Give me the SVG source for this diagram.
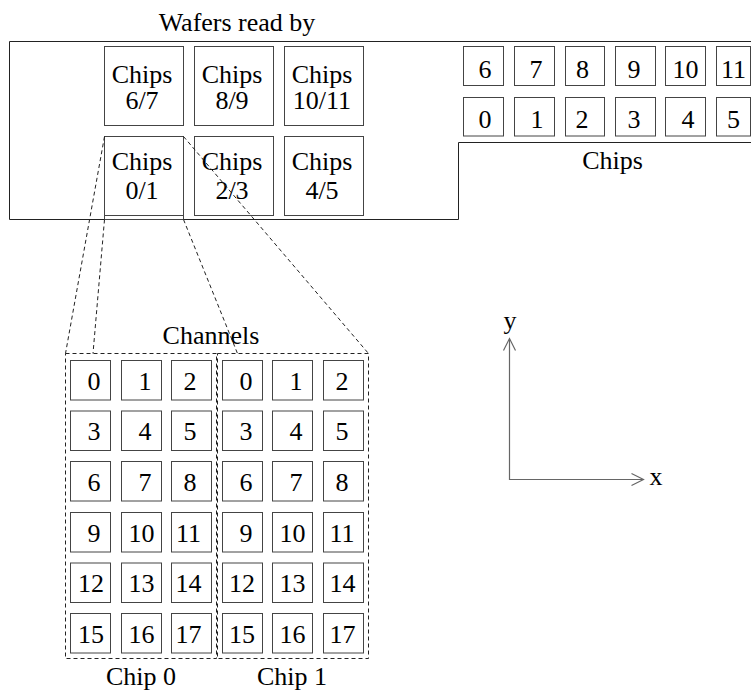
<svg xmlns="http://www.w3.org/2000/svg" width="751" height="692" viewBox="0 0 751 692">
<style>
text{font-family:"Liberation Serif","Times New Roman",serif;font-size:26px;fill:#000}
.m{text-anchor:middle}
.box{fill:#fff;stroke:#444;stroke-width:1}
.out{fill:none;stroke:#222;stroke-width:1}
.dash{fill:none;stroke:#222;stroke-width:1;stroke-dasharray:4 3}
.ax{fill:none;stroke:#666;stroke-width:1.2}
</style>
<rect width="751" height="692" fill="#fff"/>
<g id="wafer">
<path class="out" d="M751,41.5 H9.5 V219.5 H458.5 V142.5 H751"/>
<text class="m" x="237" y="31">Wafers read by</text>
</g>
<g id="readout">
<g id="chips67"><rect class="box" x="104.5" y="46.5" width="79" height="79"/><text class="m" x="142" y="83">Chips</text><text class="m" x="142" y="108.5">6/7</text></g>
<g id="chips89"><rect class="box" x="194.5" y="46.5" width="79" height="79"/><text class="m" x="232" y="83">Chips</text><text class="m" x="232" y="108.5">8/9</text></g>
<g id="chips1011"><rect class="box" x="284.5" y="46.5" width="79" height="79"/><text class="m" x="322" y="83">Chips</text><text class="m" x="322" y="108.5">10/11</text></g>
<g id="chips01"><rect class="box" x="104.5" y="136.5" width="79" height="83"/><line class="box" x1="104.5" y1="215.5" x2="183.5" y2="215.5"/><text class="m" x="142" y="170">Chips</text><text class="m" x="142" y="198.5">0/1</text></g>
<g id="chips23"><rect class="box" x="194.5" y="136.5" width="79" height="79"/><text class="m" x="232" y="170">Chips</text><text class="m" x="232" y="198.5">2/3</text></g>
<g id="chips45"><rect class="box" x="284.5" y="136.5" width="79" height="79"/><text class="m" x="322" y="170">Chips</text><text class="m" x="322" y="198.5">4/5</text></g>
</g>
<g id="chipmap">
<rect class="box" x="463.5" y="46.5" width="40" height="39"/><text class="m" x="485" y="77.5">6</text>
<rect class="box" x="514.5" y="46.5" width="40" height="39"/><text class="m" x="536" y="77.5">7</text>
<rect class="box" x="565.5" y="46.5" width="39" height="39"/><text class="m" x="582.5" y="77.5">8</text>
<rect class="box" x="615.5" y="46.5" width="40" height="39"/><text class="m" x="634" y="77.5">9</text>
<rect class="box" x="665.5" y="46.5" width="40" height="39"/><text class="m" x="685.5" y="77.5">10</text>
<rect class="box" x="716.5" y="46.5" width="34" height="39"/><text class="m" x="733.5" y="77.5">11</text>
<rect class="box" x="463.5" y="97.5" width="40" height="38.5"/><text class="m" x="485" y="128">0</text>
<rect class="box" x="514.5" y="97.5" width="40" height="38.5"/><text class="m" x="537" y="128">1</text>
<rect class="box" x="565.5" y="97.5" width="39" height="38.5"/><text class="m" x="582" y="128">2</text>
<rect class="box" x="615.5" y="97.5" width="40" height="38.5"/><text class="m" x="634" y="128">3</text>
<rect class="box" x="665.5" y="97.5" width="40" height="38.5"/><text class="m" x="688" y="128">4</text>
<rect class="box" x="716.5" y="97.5" width="34" height="38.5"/><text class="m" x="733.5" y="128">5</text>
<text class="m" x="612.5" y="168.5">Chips</text>
</g>
<g id="chip0">
<rect class="dash" x="65.5" y="353.5" width="151" height="305"/>
<text class="m" x="141" y="684.5">Chip 0</text>
</g>
<g id="chip1">
<rect class="dash" x="217.5" y="353.5" width="151" height="305"/>
<text class="m" x="292" y="684.5">Chip 1</text>
</g>
<text class="m" x="211" y="343.5">Channels</text>
<g id="channels">
<g class="box">
<rect x="70.5" y="360.5" width="40" height="39.5"/><rect x="121.5" y="360.5" width="40" height="39.5"/><rect x="171.5" y="360.5" width="40" height="39.5"/><rect x="222.5" y="360.5" width="40" height="39.5"/><rect x="272.5" y="360.5" width="40" height="39.5"/><rect x="323.5" y="360.5" width="40" height="39.5"/>
<rect x="70.5" y="411" width="40" height="39.5"/><rect x="121.5" y="411" width="40" height="39.5"/><rect x="171.5" y="411" width="40" height="39.5"/><rect x="222.5" y="411" width="40" height="39.5"/><rect x="272.5" y="411" width="40" height="39.5"/><rect x="323.5" y="411" width="40" height="39.5"/>
<rect x="70.5" y="461.5" width="40" height="39.5"/><rect x="121.5" y="461.5" width="40" height="39.5"/><rect x="171.5" y="461.5" width="40" height="39.5"/><rect x="222.5" y="461.5" width="40" height="39.5"/><rect x="272.5" y="461.5" width="40" height="39.5"/><rect x="323.5" y="461.5" width="40" height="39.5"/>
<rect x="70.5" y="512.5" width="40" height="39.5"/><rect x="121.5" y="512.5" width="40" height="39.5"/><rect x="171.5" y="512.5" width="40" height="39.5"/><rect x="222.5" y="512.5" width="40" height="39.5"/><rect x="272.5" y="512.5" width="40" height="39.5"/><rect x="323.5" y="512.5" width="40" height="39.5"/>
<rect x="70.5" y="563" width="40" height="39.5"/><rect x="121.5" y="563" width="40" height="39.5"/><rect x="171.5" y="563" width="40" height="39.5"/><rect x="222.5" y="563" width="40" height="39.5"/><rect x="272.5" y="563" width="40" height="39.5"/><rect x="323.5" y="563" width="40" height="39.5"/>
<rect x="70.5" y="613.5" width="40" height="39.5"/><rect x="121.5" y="613.5" width="40" height="39.5"/><rect x="171.5" y="613.5" width="40" height="39.5"/><rect x="222.5" y="613.5" width="40" height="39.5"/><rect x="272.5" y="613.5" width="40" height="39.5"/><rect x="323.5" y="613.5" width="40" height="39.5"/>
</g>
<text class="m" x="94" y="389.5">0</text><text class="m" x="145" y="389.5">1</text><text class="m" x="190" y="389.5">2</text><text class="m" x="246" y="389.5">0</text><text class="m" x="296" y="389.5">1</text><text class="m" x="342" y="389.5">2</text>
<text class="m" x="94" y="440">3</text><text class="m" x="145" y="440">4</text><text class="m" x="190" y="440">5</text><text class="m" x="246" y="440">3</text><text class="m" x="296" y="440">4</text><text class="m" x="342" y="440">5</text>
<text class="m" x="94" y="490.5">6</text><text class="m" x="145" y="490.5">7</text><text class="m" x="190" y="490.5">8</text><text class="m" x="246" y="490.5">6</text><text class="m" x="296" y="490.5">7</text><text class="m" x="342" y="490.5">8</text>
<text class="m" x="94" y="541.5">9</text><text class="m" x="141.5" y="541.5">10</text><text class="m" x="188.5" y="541.5">11</text><text class="m" x="246" y="541.5">9</text><text class="m" x="292.5" y="541.5">10</text><text class="m" x="342" y="541.5">11</text>
<text class="m" x="91" y="592">12</text><text class="m" x="141.5" y="592">13</text><text class="m" x="188.5" y="592">14</text><text class="m" x="242" y="592">12</text><text class="m" x="292.5" y="592">13</text><text class="m" x="342.5" y="592">14</text>
<text class="m" x="91" y="642.5">15</text><text class="m" x="141.5" y="642.5">16</text><text class="m" x="188.5" y="642.5">17</text><text class="m" x="242" y="642.5">15</text><text class="m" x="292.5" y="642.5">16</text><text class="m" x="342.5" y="642.5">17</text>
</g>
<g id="connectors">
<line class="dash" x1="104.5" y1="136.5" x2="65.5" y2="353.5"/>
<line class="dash" x1="104.5" y1="219.5" x2="93" y2="353.5"/>
<line class="dash" x1="183.5" y1="136.5" x2="368.5" y2="353.5"/>
<line class="dash" x1="183.5" y1="219.5" x2="237.5" y2="353.5"/>
</g>
<g id="axes">
<path class="ax" d="M509.5,339 V479.5 H643"/>
<path class="ax" d="M503.5,350.5 L509.5,338.5 L515.5,350.5"/>
<path class="ax" d="M631.5,473.5 L643.5,479.5 L631.5,485.5"/>
<text class="m" x="510" y="329">y</text>
<text class="m" x="656" y="485">x</text>
</g>
</svg>
